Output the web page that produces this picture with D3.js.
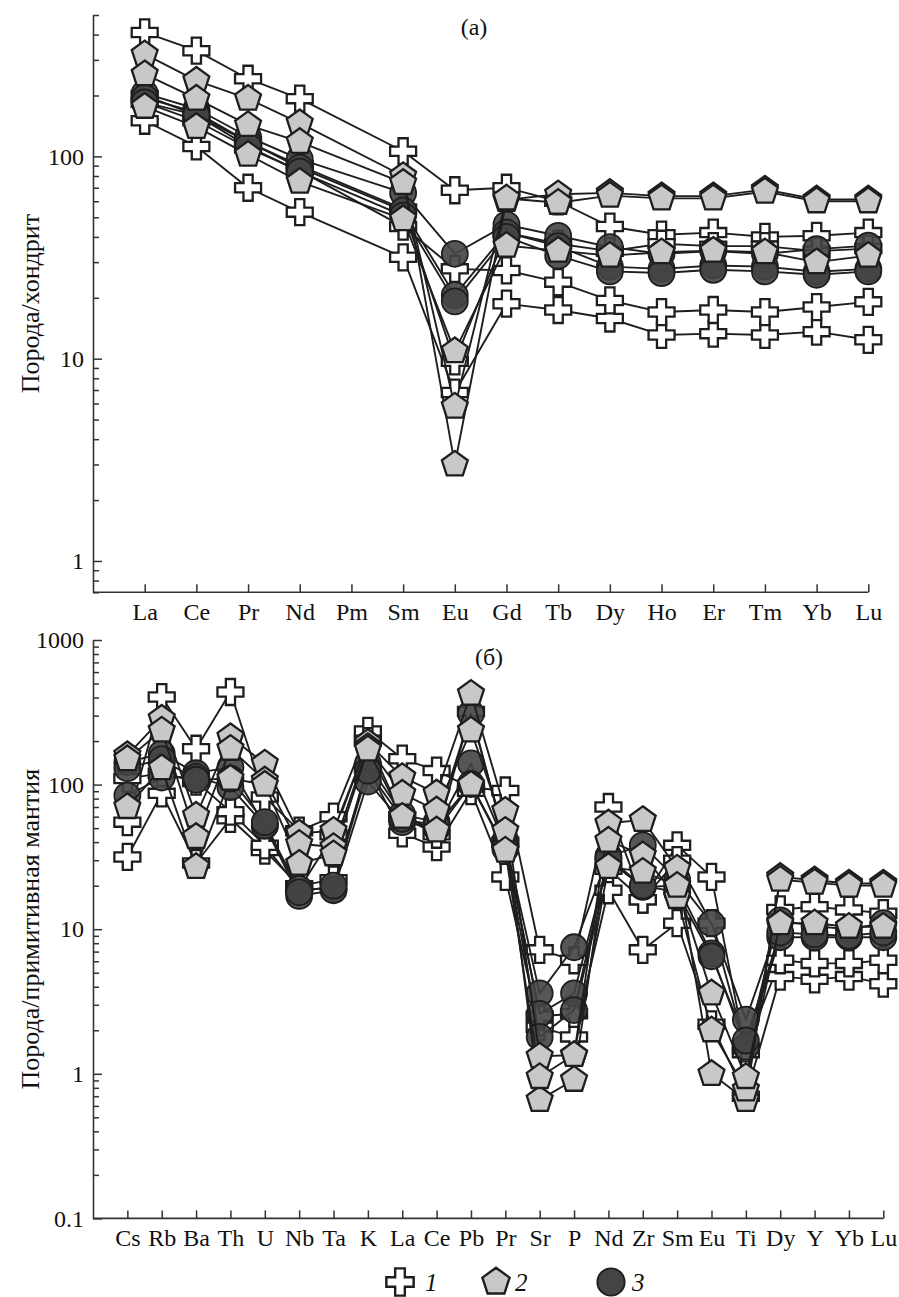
<!DOCTYPE html>
<html>
<head>
<meta charset="utf-8">
<script src="https://cdn.jsdelivr.net/npm/d3@7"></script>
<style>
  html, body { margin: 0; padding: 0; background: #ffffff; }
  svg { display: block; }
  svg text { font-family: "Liberation Serif", "Times New Roman", Times, serif; }
</style>
</head>
<body>
<svg id="chart" width="899" height="1297"></svg>
<script>
// ---------- REE, chondrite-normalised (panel а) ----------
const reeElements = ["La", "Ce", "Pr", "Nd", "Pm", "Sm", "Eu", "Gd", "Tb", "Dy", "Ho", "Er", "Tm", "Yb", "Lu"];

// group 1 (crosses)
const reeGroup1 = [
  [410, 333, 242, 193, null, 106, 68, 70, 60, 45, 41, 42, 40, 40.5, 42],
  [150, 112, 70, 53, null, 31.7, 6.8, 18.7, 17.4, 15.8, 13.1, 13.3, 13.1, 13.6, 12.4],
  [185, 150, 110, 85, null, 45, 27.8, 27.3, 23.9, 19.4, 17, 17.4, 17, 18, 19.1],
  [200, 160, 118, 90, null, 55, 9.7, 42, 37, 34, 37, 36, 36, 34, 35]
];
// group 2 (pentagons)
const reeGroup2 = [
  [320, 237, 193, 146, null, 80, 3.0, 61, 65, 66, 63.6, 63.6, 68.6, 61.3, 61.3],
  [255, 193, 143, 118, null, 74, 5.8, 62, 59, 64, 62, 62, 67, 60, 60],
  [176, 140, 102, 75, null, 49, 10.9, 36.2, 34.2, 32.3, 33.6, 34.2, 33.6, 30, 32.3]
];
// group 3 (circles)
const reeGroup3 = [
  [205, 172, 125, 97, null, 66, 33, 46, 40.5, 35.6, 33, 34, 33, 34.8, 36.2],
  [195, 165, 118, 88, null, 54, 20.6, 42, 36, 28.5, 27.8, 28.9, 28.5, 26.9, 27.8],
  [185, 160, 112, 84, null, 51, 19.2, 40, 32.3, 27, 26.5, 27.5, 27, 26, 27]
];
const reeTickLabels = [1, 10, 100];

// ---------- multi-element, primitive-mantle-normalised (panel б) ----------
const spiderElements = ["Cs", "Rb", "Ba", "Th", "U", "Nb", "Ta", "K", "La", "Ce", "Pb", "Pr", "Sr", "P", "Nd", "Zr", "Sm", "Eu", "Ti", "Dy", "Y", "Yb", "Lu"];

const spiderGroup1 = [
  [55, 403, 177, 437, 82, 48, 60, 235, 151, 125, 95, 91, 7.2, 6.1, 70, 16, 38, 23, 1.4, 13.7, 14.3, 13.6, 12.9],
  [31.6, 87, 28.7, 58, 35, 20, 22, 130, 46, 37, 90, 23, 2.1, 1.8, 18.6, 7.2, 11, 2.2, 0.7, 4.7, 4.5, 4.7, 4.2],
  [110, 120, 105, 65, 38, 19, 45, 200, 60, 45, 320, 40, 2.5, 2.6, 26, 16, 30, 11, 1.5, 6.1, 5.8, 5.8, 6.1]
];
const spiderGroup2 = [
  [160, 286, 61, 213, 140, 46, 48, 195, 113, 87, 425, 66, 1.32, 1.35, 54, 57, 26.3, 1.0, 0.66, 23, 21.8, 20.7, 20.7],
  [150, 237, 43.5, 177, 107, 39, 37, 182, 86.6, 66.4, 237, 48, 0.66, 0.91, 41, 32.5, 16.7, 2.0, 0.78, 22, 21, 20, 20],
  [70, 130, 27, 110, 100, 28.4, 33, 175, 60, 48.3, 100, 35, 0.95, 1.35, 27, 25, 20, 3.6, 0.95, 11, 11, 10.4, 10.4]
];
const spiderGroup3 = [
  [143, 164, 120, 132, 52, 19, 19, 140, 62, 55, 310, 41, 3.6, 7.5, 32, 38, 22, 11, 2.37, 11.5, 10.5, 10, 11],
  [84, 112, 113, 96, 52, 17, 18.6, 105, 55, 50, 140, 38, 2.6, 3.6, 30, 19.6, 20, 6.8, 1.54, 8.8, 8.8, 8.8, 8.8],
  [130, 150, 108, 110, 55, 18, 20, 125, 58, 52, 101, 36, 1.8, 2.76, 31, 20, 18, 6.5, 1.7, 9.5, 9.2, 9, 9.5]
];
const spiderTickLabels = [0.1, 1, 10, 100, 1000];

const legendLabels = ["1", "2", "3"];

// ---------- drawing ----------
const svg = d3.select("#chart");
const INK = "#1e1e1e";

function crossPath(a, b) {
  return `M${-b},${-a}H${b}V${-b}H${a}V${b}H${b}V${a}H${-b}V${b}H${-a}V${-b}H${-b}Z`;
}
function pentagonPath(r) {
  const pts = d3.range(5).map(k => {
    const t = -Math.PI / 2 + k * 2 * Math.PI / 5;
    return [r * Math.cos(t), r * Math.sin(t)];
  });
  return "M" + pts.map(p => p.join(",")).join("L") + "Z";
}

const markerStyles = {
  g1: { d: crossPath(13, 4.6), fill: "#ffffff", stroke: INK, sw: 2.3, opacity: 1 },
  g2: { d: pentagonPath(13.6), fill: "#c6c8ca", stroke: INK, sw: 2.3, opacity: 1 },
  g3: { d: d3.symbol(d3.symbolCircle, Math.PI * 13 * 13)(), fill: "#444444", stroke: INK, sw: 1.8, opacity: 0.9 }
};

function minorTicks(lo, hi) {
  const out = [];
  for (let e = -2; e <= 4; e++) {
    for (let k = 1; k <= 9; k++) {
      const v = +(k * Math.pow(10, e)).toPrecision(3);
      if (v >= lo * 0.9999 && v <= hi * 1.0001) out.push(v);
    }
  }
  return out;
}

function drawPanel(p) {
  const g = svg.append("g");
  const x = d3.scaleLinear().domain([0, p.elements.length]).range([p.left, p.right]);
  const y = d3.scaleLog().domain(p.yDomain).range([p.bottom, p.top]);
  const fmt = d3.format("~g");
  const majors = new Set(p.tickLabels);

  // series: lines then markers, group by group
  const line = d3.line().x(d => x(d.i)).y(d => y(d.v));
  const toPts = arr => arr.map((v, k) => ({ i: k + 1, v })).filter(d => d.v != null);

  p.groups.forEach(grp => {
    const st = markerStyles[grp.style];
    const gg = g.append("g");
    gg.selectAll("path.series")
      .data(grp.data)
      .join("path")
      .attr("class", "series")
      .attr("d", s => line(toPts(s)))
      .attr("fill", "none")
      .attr("stroke", INK)
      .attr("stroke-width", 1.9)
      .attr("stroke-linejoin", "round");
    grp.data.forEach(s => {
      gg.append("g").selectAll("path")
        .data(toPts(s))
        .join("path")
        .attr("d", st.d)
        .attr("transform", d => `translate(${x(d.i)},${y(d.v)})`)
        .attr("fill", st.fill)
        .attr("fill-opacity", st.opacity)
        .attr("stroke", st.stroke)
        .attr("stroke-width", st.sw)
        .attr("stroke-linejoin", "miter");
    });
  });

  // x axis
  const xAxis = d3.axisBottom(x)
    .tickValues(d3.range(1, p.elements.length + 1))
    .tickFormat(i => p.elements[i - 1])
    .tickSizeInner(-8)
    .tickSizeOuter(0)
    .tickPadding(p.xPad);
  const xg = g.append("g").attr("transform", `translate(0,${p.bottom})`).call(xAxis);
  xg.attr("font-family", null).attr("font-size", null);
  xg.select(".domain").attr("stroke", "#333").attr("stroke-width", 1.6)
    .attr("d", `M${p.left},0H${p.right}`);
  xg.selectAll(".tick line").attr("stroke", "#333").attr("stroke-width", 1.5);
  xg.selectAll(".tick text").style("font-size", p.fontSize + "px").attr("fill", "#111");

  // y axis (log, inward ticks)
  const yAxis = d3.axisLeft(y)
    .tickValues(minorTicks(p.yDomain[0], p.yDomain[1]))
    .tickFormat(d => majors.has(d) ? fmt(d) : "")
    .tickSizeInner(-9)
    .tickSizeOuter(0)
    .tickPadding(9);
  const yg = g.append("g").attr("transform", `translate(${p.left},0)`).call(yAxis);
  yg.attr("font-family", null).attr("font-size", null);
  yg.select(".domain").attr("stroke", "#333").attr("stroke-width", 1.6);
  yg.selectAll(".tick line").attr("stroke", "#333").attr("stroke-width", 1.5)
    .attr("x2", d => majors.has(d) ? 9 : 6);
  yg.selectAll(".tick text").style("font-size", p.fontSize + "px").attr("fill", "#111");

  // axis title
  g.append("text")
    .attr("transform", `translate(${p.titleX},${(p.top + p.bottom) / 2}) rotate(-90)`)
    .attr("text-anchor", "middle")
    .attr("dy", "0.35em")
    .style("font-size", p.titleSize + "px")
    .attr("fill", "#111")
    .text(p.yTitle);

  // panel letter
  g.append("text")
    .attr("x", p.letterX).attr("y", p.letterY)
    .attr("text-anchor", "middle")
    .style("font-size", p.fontSize + "px")
    .attr("fill", "#111")
    .text(p.letter);
}

drawPanel({
  elements: reeElements,
  groups: [
    { style: "g1", data: reeGroup1 },
    { style: "g3", data: reeGroup3 },
    { style: "g2", data: reeGroup2 }
  ],
  yDomain: [0.7, 500],
  tickLabels: reeTickLabels,
  left: 93, right: 868.3, top: 15, bottom: 592.3,
  xPad: 11, fontSize: 24, titleSize: 26, titleX: 30,
  yTitle: "Порода/хондрит",
  letter: "(а)", letterX: 474, letterY: 35
});

drawPanel({
  elements: spiderElements,
  groups: [
    { style: "g1", data: spiderGroup1 },
    { style: "g3", data: spiderGroup3 },
    { style: "g2", data: spiderGroup2 }
  ],
  yDomain: [0.1, 1000],
  tickLabels: spiderTickLabels,
  left: 93, right: 883.3, top: 640, bottom: 1218.4,
  xPad: 11, fontSize: 24, titleSize: 26, titleX: 30,
  yTitle: "Порода/примитивная мантия",
  letter: "(б)", letterX: 489, letterY: 665
});

// legend
const legendItems = [
  { style: "g1", cx: 400, tx: 425 },
  { style: "g2", cx: 496, tx: 515 },
  { style: "g3", cx: 611, tx: 632 }
];
const lg = svg.append("g").attr("transform", "translate(0,1282)");
legendItems.forEach((it, k) => {
  const st = markerStyles[it.style];
  lg.append("path")
    .attr("d", st.d)
    .attr("transform", `translate(${it.cx},0) scale(1.05)`)
    .attr("fill", st.fill)
    .attr("stroke", st.stroke)
    .attr("stroke-width", st.sw);
  lg.append("text")
    .attr("x", it.tx).attr("y", 9)
    .style("font-style", "italic")
    .style("font-size", "25px")
    .attr("fill", "#111")
    .text(legendLabels[k]);
});
</script>
</body>
</html>
